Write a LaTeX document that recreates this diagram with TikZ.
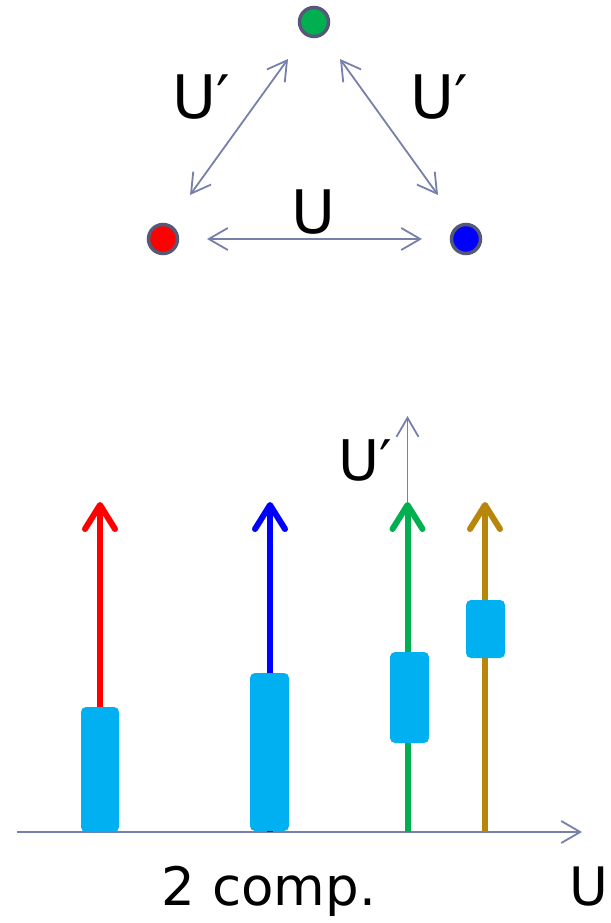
\documentclass[tikz,border=0pt]{standalone}
\usepackage{fontspec}
\setmainfont{DejaVu Sans}
\usetikzlibrary{arrows.meta}
\definecolor{axisc}{RGB}{118,128,170}
\definecolor{dotborder}{RGB}{85,88,118}
\definecolor{dred}{RGB}{255,0,0}
\definecolor{dblue}{RGB}{0,0,255}
\definecolor{dgreen}{RGB}{0,176,80}
\definecolor{dgold}{RGB}{184,134,11}
\definecolor{boxc}{RGB}{0,176,240}
\tikzset{
  dot/.style={circle, draw=dotborder, line width=3.5pt, minimum size=29pt, inner sep=0pt},
  link/.style={draw=axisc, line width=1.8pt, {Straight Barb[length=19pt,width=22pt]}-{Straight Barb[length=19pt,width=22pt]}},
  axis/.style={draw=axisc, line width=1.8pt, -{Straight Barb[length=19pt,width=22pt]}},
  vec/.style={line width=6pt, line cap=butt, -{Straight Barb[length=24pt,width=30pt,line cap=round,line join=round]}},
  bar/.style={fill=boxc, rounded corners=5pt},
  lab/.style={font=\fontsize{60}{66}\selectfont, inner sep=0pt},
  blab/.style={font=\fontsize{53}{58}\selectfont, inner sep=0pt, anchor=base}
}
\begin{document}
\begin{tikzpicture}[x=1pt,y=-1pt]
\useasboundingbox (0,0) rectangle (610,923);
% triangle
\node[dot, fill=dgreen] (g) at (314,22) {};
\node[dot, fill=dred] (r) at (163,239) {};
\node[dot, fill=dblue] (b) at (466,239) {};
\coordinate (l1) at (190,195); \coordinate (l2) at (288,59);
\coordinate (r1) at (340,59); \coordinate (r2) at (438,195);
\coordinate (h1) at (207,239); \coordinate (h2) at (422,239);
\draw[link] (l1) -- (l2);
\draw[link] (r1) -- (r2);
\draw[link] (h1) -- (h2);
\node[lab] (ul) at (201,97) {U′};
\node[lab] (ur) at (439,97) {U′};
\node[lab] (uh) at (313,212) {U};
% axes
\coordinate (o) at (17,832);
\coordinate (xe) at (582,832);
\coordinate (yb) at (407.5,832);
\coordinate (ye) at (407.5,416);
\draw[axis] (o) -- (xe);
\draw[axis] (yb) -- (ye);
\node[lab, font=\fontsize{56}{60}\selectfont] (up) at (365,460) {U′};
% vectors
\coordinate (a1) at (100,832); \coordinate (a1t) at (100,502);
\coordinate (a2) at (270,832); \coordinate (a2t) at (270,502);
\coordinate (a3) at (407.5,832); \coordinate (a3t) at (407.5,502);
\coordinate (a4) at (485,832); \coordinate (a4t) at (485,502);
\draw[vec, draw=dred] (a1) -- (a1t);
\draw[vec, draw=dblue] (a2) -- (a2t);
\draw[vec, draw=dgreen] (a3) -- (a3t);
\draw[vec, draw=dgold] (a4) -- (a4t);
% bars
\path[bar] (81,707) rectangle (119,832);
\path[bar] (250,673) rectangle (289,831);
\path[bar] (390,652) rectangle (429,743);
\path[bar] (466,600) rectangle (505,658);
% bottom labels
\node[blab] (cmp) at (269,905) {2 comp.};
\node[blab] (ux) at (589,905) {U};
\end{tikzpicture}
\end{document}
